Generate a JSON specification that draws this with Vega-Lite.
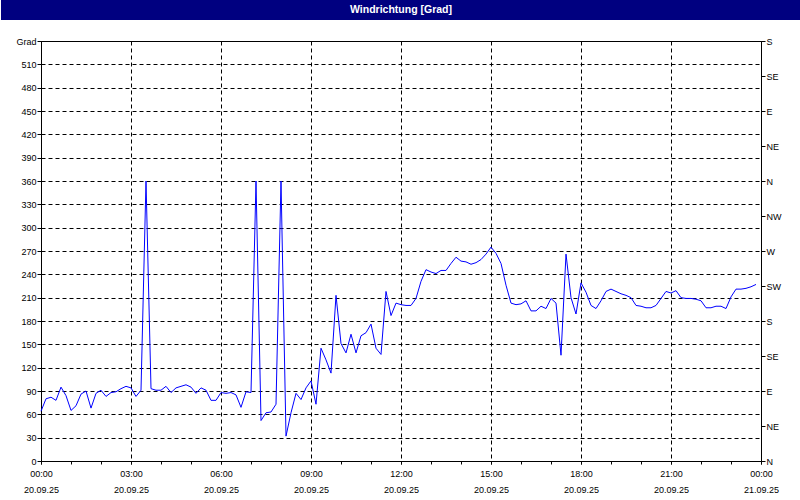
{
  "$schema": "https://vega.github.io/schema/vega-lite/v6.json",
  "padding": 0,
  "background": "white",
  "columns": 1,
  "align": "none",
  "spacing": 16,
  "config": {"font": "Liberation Sans", "view": {"stroke": null}},
  "datasets": {
    "wind": [
      {"t":"2025-09-20T00:00","v":64},{"t":"2025-09-20T00:10","v":80},{"t":"2025-09-20T00:20","v":82},{"t":"2025-09-20T00:30","v":78},{"t":"2025-09-20T00:40","v":95},{"t":"2025-09-20T00:50","v":84},
      {"t":"2025-09-20T01:00","v":65},{"t":"2025-09-20T01:10","v":71},{"t":"2025-09-20T01:20","v":86},{"t":"2025-09-20T01:30","v":90},{"t":"2025-09-20T01:40","v":68},{"t":"2025-09-20T01:50","v":87},
      {"t":"2025-09-20T02:00","v":91},{"t":"2025-09-20T02:10","v":83},{"t":"2025-09-20T02:20","v":88},{"t":"2025-09-20T02:30","v":89},{"t":"2025-09-20T02:40","v":93},{"t":"2025-09-20T02:50","v":96},
      {"t":"2025-09-20T03:00","v":94},{"t":"2025-09-20T03:10","v":83},{"t":"2025-09-20T03:20","v":91},{"t":"2025-09-20T03:30","v":360},{"t":"2025-09-20T03:40","v":93},{"t":"2025-09-20T03:50","v":91},
      {"t":"2025-09-20T04:00","v":91},{"t":"2025-09-20T04:10","v":96},{"t":"2025-09-20T04:20","v":88},{"t":"2025-09-20T04:30","v":94},{"t":"2025-09-20T04:40","v":96},{"t":"2025-09-20T04:50","v":98},
      {"t":"2025-09-20T05:00","v":95},{"t":"2025-09-20T05:10","v":87},{"t":"2025-09-20T05:20","v":94},{"t":"2025-09-20T05:30","v":91},{"t":"2025-09-20T05:40","v":78},{"t":"2025-09-20T05:50","v":78},
      {"t":"2025-09-20T06:00","v":88},{"t":"2025-09-20T06:10","v":87},{"t":"2025-09-20T06:20","v":88},{"t":"2025-09-20T06:30","v":85},{"t":"2025-09-20T06:40","v":69},{"t":"2025-09-20T06:50","v":89},
      {"t":"2025-09-20T07:00","v":88},{"t":"2025-09-20T07:10","v":360},{"t":"2025-09-20T07:20","v":52},{"t":"2025-09-20T07:30","v":62},{"t":"2025-09-20T07:40","v":63},{"t":"2025-09-20T07:50","v":73},
      {"t":"2025-09-20T08:00","v":360},{"t":"2025-09-20T08:10","v":32},{"t":"2025-09-20T08:20","v":62},{"t":"2025-09-20T08:30","v":87},{"t":"2025-09-20T08:40","v":79},{"t":"2025-09-20T08:50","v":94},
      {"t":"2025-09-20T09:00","v":103},{"t":"2025-09-20T09:10","v":73},{"t":"2025-09-20T09:20","v":145},{"t":"2025-09-20T09:30","v":130},{"t":"2025-09-20T09:40","v":113},{"t":"2025-09-20T09:50","v":213},
      {"t":"2025-09-20T10:00","v":151},{"t":"2025-09-20T10:10","v":139},{"t":"2025-09-20T10:20","v":163},{"t":"2025-09-20T10:30","v":139},{"t":"2025-09-20T10:40","v":161},{"t":"2025-09-20T10:50","v":165},
      {"t":"2025-09-20T11:00","v":176},{"t":"2025-09-20T11:10","v":145},{"t":"2025-09-20T11:20","v":137},{"t":"2025-09-20T11:30","v":218},{"t":"2025-09-20T11:40","v":187},{"t":"2025-09-20T11:50","v":203},
      {"t":"2025-09-20T12:00","v":201},{"t":"2025-09-20T12:10","v":200},{"t":"2025-09-20T12:20","v":200},{"t":"2025-09-20T12:30","v":209},{"t":"2025-09-20T12:40","v":231},{"t":"2025-09-20T12:50","v":246},
      {"t":"2025-09-20T13:00","v":243},{"t":"2025-09-20T13:10","v":241},{"t":"2025-09-20T13:20","v":245},{"t":"2025-09-20T13:30","v":245},{"t":"2025-09-20T13:40","v":254},{"t":"2025-09-20T13:50","v":262},
      {"t":"2025-09-20T14:00","v":257},{"t":"2025-09-20T14:10","v":256},{"t":"2025-09-20T14:20","v":253},{"t":"2025-09-20T14:30","v":255},{"t":"2025-09-20T14:40","v":259},{"t":"2025-09-20T14:50","v":266},
      {"t":"2025-09-20T15:00","v":275},{"t":"2025-09-20T15:10","v":267},{"t":"2025-09-20T15:20","v":254},{"t":"2025-09-20T15:30","v":226},{"t":"2025-09-20T15:40","v":203},{"t":"2025-09-20T15:50","v":201},
      {"t":"2025-09-20T16:00","v":202},{"t":"2025-09-20T16:10","v":206},{"t":"2025-09-20T16:20","v":193},{"t":"2025-09-20T16:30","v":193},{"t":"2025-09-20T16:40","v":199},{"t":"2025-09-20T16:50","v":196},
      {"t":"2025-09-20T17:00","v":209},{"t":"2025-09-20T17:10","v":203},{"t":"2025-09-20T17:20","v":136},{"t":"2025-09-20T17:30","v":266},{"t":"2025-09-20T17:40","v":210},{"t":"2025-09-20T17:50","v":189},
      {"t":"2025-09-20T18:00","v":229},{"t":"2025-09-20T18:10","v":217},{"t":"2025-09-20T18:20","v":200},{"t":"2025-09-20T18:30","v":196},{"t":"2025-09-20T18:40","v":206},{"t":"2025-09-20T18:50","v":218},
      {"t":"2025-09-20T19:00","v":221},{"t":"2025-09-20T19:10","v":218},{"t":"2025-09-20T19:20","v":215},{"t":"2025-09-20T19:30","v":213},{"t":"2025-09-20T19:40","v":210},{"t":"2025-09-20T19:50","v":200},
      {"t":"2025-09-20T20:00","v":199},{"t":"2025-09-20T20:10","v":197},{"t":"2025-09-20T20:20","v":197},{"t":"2025-09-20T20:30","v":200},{"t":"2025-09-20T20:40","v":209},{"t":"2025-09-20T20:50","v":218},
      {"t":"2025-09-20T21:00","v":216},{"t":"2025-09-20T21:10","v":219},{"t":"2025-09-20T21:20","v":210},{"t":"2025-09-20T21:30","v":209},{"t":"2025-09-20T21:40","v":209},{"t":"2025-09-20T21:50","v":208},
      {"t":"2025-09-20T22:00","v":206},{"t":"2025-09-20T22:10","v":197},{"t":"2025-09-20T22:20","v":197},{"t":"2025-09-20T22:30","v":199},{"t":"2025-09-20T22:40","v":199},{"t":"2025-09-20T22:50","v":196},
      {"t":"2025-09-20T23:00","v":211},{"t":"2025-09-20T23:10","v":221},{"t":"2025-09-20T23:20","v":221},{"t":"2025-09-20T23:30","v":222},{"t":"2025-09-20T23:40","v":224},{"t":"2025-09-20T23:50","v":227}
    ]
  },
  "concat": [
    {
      "width": 720,
      "height": 20,
      "data": {"values": [{"title": "Windrichtung [Grad]", "x0": 0, "x1": 1, "y0": 0, "y1": 1, "xm": 0.5, "ym": 0.5}]},
      "layer": [
        {
          "mark": {"type": "rect", "color": "#000080", "clip": false},
          "encoding": {
            "x": {"field": "x0", "type": "quantitative", "scale": {"domain": [0, 1], "range": [-40, 760]}, "axis": null},
            "x2": {"field": "x1"},
            "y": {"field": "y0", "type": "quantitative", "scale": {"domain": [0, 1]}, "axis": null},
            "y2": {"field": "y1"}
          }
        },
        {
          "mark": {"type": "text", "color": "white", "fontWeight": "bold", "fontSize": 10.5, "font": "Liberation Sans", "baseline": "middle", "align": "center"},
          "encoding": {
            "text": {"field": "title"},
            "x": {"field": "xm", "type": "quantitative"},
            "y": {"field": "ym", "type": "quantitative"}
          }
        }
      ]
    },
    {
      "width": 720,
      "height": 420,
      "view": {"stroke": "black", "strokeWidth": 1},
      "data": {"name": "wind"},
      "layer": [
        {
          "mark": {"type": "line", "color": "#0000ff", "strokeWidth": 1},
          "encoding": {
            "x": {
              "field": "t",
              "type": "temporal",
              "scale": {"domain": [{"year": 2025, "month": 9, "date": 20, "hours": 0}, {"year": 2025, "month": 9, "date": 21, "hours": 0}], "nice": false},
              "axis": {
                "orient": "bottom",
                "title": null,
                "values": [
                  {"year": 2025, "month": 9, "date": 20, "hours": 0}, {"year": 2025, "month": 9, "date": 20, "hours": 3},
                  {"year": 2025, "month": 9, "date": 20, "hours": 6}, {"year": 2025, "month": 9, "date": 20, "hours": 9},
                  {"year": 2025, "month": 9, "date": 20, "hours": 12}, {"year": 2025, "month": 9, "date": 20, "hours": 15},
                  {"year": 2025, "month": 9, "date": 20, "hours": 18}, {"year": 2025, "month": 9, "date": 20, "hours": 21},
                  {"year": 2025, "month": 9, "date": 21, "hours": 0}
                ],
                "format": "%H:%M",
                "labelOverlap": false,
                "labelFlush": false,
                "labelFontSize": 9,
                "labelColor": "black",
                "labelPadding": 5,
                "tickSize": 3,
                "tickColor": "black",
                "domainColor": "black",
                "grid": true,
                "gridColor": "black",
                "gridDash": [4, 3]
              }
            },
            "y": {
              "field": "v",
              "type": "quantitative",
              "scale": {"domain": [0, 540], "nice": false},
              "axis": {
                "orient": "left",
                "title": null,
                "values": [0,30,60,90,120,150,180,210,240,270,300,330,360,390,420,450,480,510,540],
                "labelExpr": "datum.value == 540 ? 'Grad' : datum.label",
                "labelFontSize": 9,
                "labelColor": "black",
                "labelPadding": 1,
                "labelFlush": false,
                "labelOverlap": false,
                "tickSize": 4,
                "tickColor": "black",
                "domainColor": "black",
                "minExtent": 40,
                "maxExtent": 40,
                "grid": true,
                "gridColor": "black",
                "gridDash": [4, 3]
              }
            }
          }
        },
        {
          "mark": {"type": "line", "strokeOpacity": 0},
          "encoding": {
            "x": {
              "field": "t",
              "type": "temporal",
              "axis": {
                "orient": "bottom",
                "title": null,
                "values": [
                  {"year": 2025, "month": 9, "date": 20, "hours": 0}, {"year": 2025, "month": 9, "date": 20, "hours": 3},
                  {"year": 2025, "month": 9, "date": 20, "hours": 6}, {"year": 2025, "month": 9, "date": 20, "hours": 9},
                  {"year": 2025, "month": 9, "date": 20, "hours": 12}, {"year": 2025, "month": 9, "date": 20, "hours": 15},
                  {"year": 2025, "month": 9, "date": 20, "hours": 18}, {"year": 2025, "month": 9, "date": 20, "hours": 21},
                  {"year": 2025, "month": 9, "date": 21, "hours": 0}
                ],
                "format": "%d.%m.%y",
                "labelOverlap": false,
                "labelFlush": false,
                "labelFontSize": 9,
                "labelColor": "black",
                "labelPadding": 21,
                "tickSize": 3,
                "tickColor": "black",
                "domain": false,
                "grid": false
              }
            },
            "y": {
              "field": "v",
              "type": "quantitative",
              "axis": {
                "orient": "right",
                "title": null,
                "values": [0,45,90,135,180,225,270,315,360,405,450,495,540],
                "labelExpr": "datum.value % 360 == 0 ? 'N' : datum.value % 360 == 45 ? 'NE' : datum.value % 360 == 90 ? 'E' : datum.value % 360 == 135 ? 'SE' : datum.value % 360 == 180 ? 'S' : datum.value % 360 == 225 ? 'SW' : datum.value % 360 == 270 ? 'W' : 'NW'",
                "labelFontSize": 9,
                "labelColor": "black",
                "labelPadding": 1,
                "labelFlush": false,
                "labelOverlap": false,
                "tickSize": 4,
                "tickColor": "black",
                "domainColor": "black",
                "grid": false
              }
            }
          }
        },
        {
          "mark": {"type": "line", "strokeOpacity": 0},
          "encoding": {
            "x": {
              "field": "t",
              "type": "temporal",
              "axis": {
                "orient": "bottom",
                "title": null,
                "values": [
                  {"year": 2025, "month": 9, "date": 20, "hours": 1}, {"year": 2025, "month": 9, "date": 20, "hours": 2},
                  {"year": 2025, "month": 9, "date": 20, "hours": 4}, {"year": 2025, "month": 9, "date": 20, "hours": 5},
                  {"year": 2025, "month": 9, "date": 20, "hours": 7}, {"year": 2025, "month": 9, "date": 20, "hours": 8},
                  {"year": 2025, "month": 9, "date": 20, "hours": 10}, {"year": 2025, "month": 9, "date": 20, "hours": 11},
                  {"year": 2025, "month": 9, "date": 20, "hours": 13}, {"year": 2025, "month": 9, "date": 20, "hours": 14},
                  {"year": 2025, "month": 9, "date": 20, "hours": 16}, {"year": 2025, "month": 9, "date": 20, "hours": 17},
                  {"year": 2025, "month": 9, "date": 20, "hours": 19}, {"year": 2025, "month": 9, "date": 20, "hours": 20},
                  {"year": 2025, "month": 9, "date": 20, "hours": 22}, {"year": 2025, "month": 9, "date": 20, "hours": 23}
                ],
                "labels": false,
                "tickSize": 3,
                "tickColor": "black",
                "domain": false,
                "grid": false
              }
            },
            "y": {"field": "v", "type": "quantitative", "axis": null}
          }
        }
      ],
      "resolve": {"axis": {"x": "independent", "y": "independent"}}
    }
  ]
}
